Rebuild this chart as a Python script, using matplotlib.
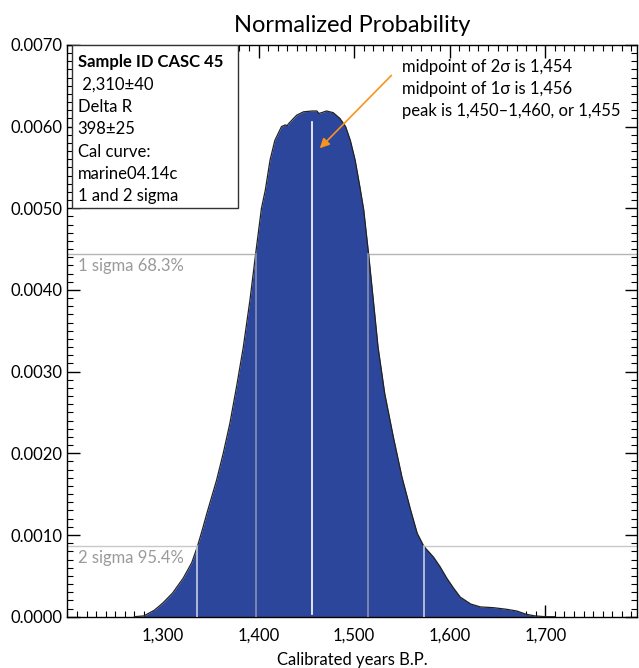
import matplotlib
matplotlib.use("Agg")
import matplotlib.pyplot as plt
from matplotlib.patches import Rectangle
from matplotlib.ticker import MultipleLocator, FuncFormatter

plt.rcParams["font.family"] = ["Lato", "DejaVu Sans"]

# calibrated years B.P. and probability
years = [1270, 1280, 1291, 1300, 1310, 1321, 1330, 1336, 1341, 1346,
         1356, 1363, 1370, 1377, 1384, 1391, 1397, 1403, 1407, 1412,
         1417, 1424, 1428, 1430, 1431, 1435, 1440, 1447, 1456, 1461,
         1463, 1466, 1471, 1478, 1485, 1491, 1496, 1501, 1506, 1510,
         1515, 1520, 1525, 1532, 1541, 1550, 1559, 1566, 1573, 1583,
         1590, 1597, 1604, 1611, 1622, 1632, 1646, 1660, 1670, 1680,
         1689, 1700, 1710]
density = [0.0, 0.00001, 0.00008, 0.00017, 0.00029, 0.00047, 0.00066, 0.00086, 0.00106, 0.00127,
           0.00167, 0.00200, 0.00237, 0.00282, 0.00330, 0.00388, 0.00445, 0.00500, 0.00522, 0.00559,
           0.00583, 0.00600, 0.00602, 0.00601, 0.00603, 0.00608, 0.00614, 0.00618, 0.00619, 0.00619,
           0.00616, 0.00617, 0.00619, 0.00617, 0.00610, 0.00600, 0.00583, 0.00559, 0.00526, 0.00498,
           0.00445, 0.00388, 0.00330, 0.00273, 0.00220, 0.00171, 0.00131, 0.00102, 0.00086, 0.00073,
           0.00061, 0.00047, 0.00035, 0.00024, 0.000155, 0.00012, 0.00011, 0.00009, 0.00007, 0.00003,
           0.00001, 0.0, 0.0]

sigma1_range = [1397, 1515]
sigma1_level = 0.00444
sigma2_range = [1336, 1573]
sigma2_level = 0.00086
midpoint = 1456
midpoint_top = 0.00605

info_lines = ["Sample ID CASC 45", " 2,310\u00b140", "Delta R", "398\u00b125",
              "Cal curve:", "marine04.14c", "1 and 2 sigma"]
note_lines = ["midpoint of 2\u03c3 is 1,454",
              "midpoint of 1\u03c3 is 1,456",
              "peak is 1,450\u20131,460, or 1,455"]

fill_color = "#2c469b"

fig = plt.figure(figsize=(6.39, 6.68), dpi=100)
ax = fig.add_axes([0.1056, 0.0768, 0.8913, 0.8561])

# sigma levels (behind the distribution)
ax.axhline(sigma1_level, color="#b5b5b5", linewidth=1, zorder=1)
ax.axhline(sigma2_level, color="#c8c8c8", linewidth=1, zorder=1)

ax.fill_between(years, density, 0, color=fill_color, linewidth=0, zorder=2)
ax.plot(years, density, color="#222222", linewidth=0.9, zorder=3)

# range markers
for x in sigma1_range:
    ax.plot([x, x], [0, sigma1_level], color="#8a90b4", linewidth=1.2, zorder=4)
for x in sigma2_range:
    ax.plot([x, x], [0, sigma2_level], color="#c9cde4", linewidth=1.2, zorder=4)
ax.plot([midpoint, midpoint], [0.00003, midpoint_top], color="white", linewidth=1.2, zorder=4)

ax.text(0.018, (sigma1_level - 0.00015) / 0.007, "1 sigma 68.3%", transform=ax.transAxes,
        color="#9a9a9a", fontsize=12, va="center", ha="left")
ax.text(0.018, (sigma2_level - 0.00014) / 0.007, "2 sigma 95.4%", transform=ax.transAxes,
        color="#9a9a9a", fontsize=12, va="center", ha="left")

# info box
ax.add_patch(Rectangle((0.008, 0.7146), 0.2915, 0.2854, transform=ax.transAxes,
                       facecolor="white", edgecolor="#333333", linewidth=1, zorder=5))
for i, line in enumerate(info_lines):
    ax.text(0.018, 0.970 - i * 0.0392, line, transform=ax.transAxes,
            fontsize=12, va="center", ha="left", zorder=6,
            fontweight="bold" if i == 0 else "normal")

# notes and arrow
for i, line in enumerate(note_lines):
    ax.text(0.588, 0.961 - i * 0.0385, line, transform=ax.transAxes,
            fontsize=12, va="center", ha="left")
ax.annotate("", xy=(1462, 0.00571), xytext=(1541, 0.00665),
            arrowprops=dict(arrowstyle="-|>", color="#f7941d", linewidth=1.2,
                            mutation_scale=14))

ax.set_xlim(1200, 1796)
ax.set_ylim(0, 0.0070)

ax.set_xticks([1300, 1400, 1500, 1600, 1700])
ax.set_yticks([0.0, 0.001, 0.002, 0.003, 0.004, 0.005, 0.006, 0.007])
ax.xaxis.set_minor_locator(MultipleLocator(10))
ax.yaxis.set_minor_locator(MultipleLocator(0.0001))
ax.xaxis.set_major_formatter(FuncFormatter(lambda v, p: f"{v:,.0f}"))
ax.yaxis.set_major_formatter(FuncFormatter(lambda v, p: f"{v:.4f}"))

ax.tick_params(which="both", direction="in", top=True, right=True, labelsize=12)
ax.tick_params(which="major", length=9, width=1)
ax.tick_params(which="minor", length=4, width=0.8)
ax.tick_params(axis="x", pad=8)

for s in ax.spines.values():
    s.set_linewidth(1)

ax.set_title("Normalized Probability", fontsize=17, pad=9)
ax.set_xlabel("Calibrated years B.P.", fontsize=12, labelpad=6)

fig.savefig("out.png", dpi=100)
